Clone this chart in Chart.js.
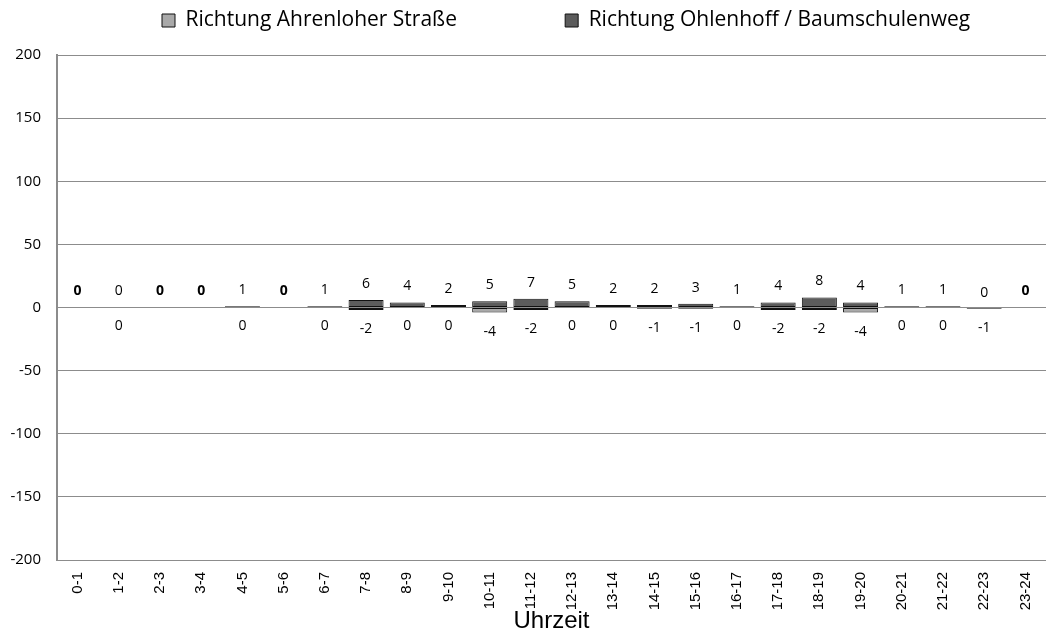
<!DOCTYPE html>
<html>
<head>
<meta charset="utf-8">
<script src="https://cdn.jsdelivr.net/npm/chart.js@4.4.0/dist/chart.umd.min.js"></script>
<style>
  html, body { margin: 0; padding: 0; background: #fff; }
  #box { width: 1046px; height: 636px; position: relative; }
</style>
</head>
<body>
<div id="box"><canvas id="chartVerkehr"></canvas></div>
<script>
// Stunden-Kategorien
const stunden = ['0-1', '1-2', '2-3', '3-4', '4-5', '5-6', '6-7', '7-8', '8-9', '9-10', '10-11', '11-12',
    '12-13', '13-14', '14-15', '15-16', '16-17', '17-18', '18-19', '19-20', '20-21', '21-22', '22-23', '23-24'];

// Richtung Ohlenhoff / Baumschulenweg (nach oben)
const richtungOhlenhoff = [0, 0, 0, 0, 1, 0, 1, 6, 4, 2, 5, 7, 5, 2, 2, 3, 1, 4, 8, 4, 1, 1, 0, 0];

// Richtung Ahrenloher Straße (nach unten), null = kein Wert
const richtungAhrenloher = [null, 0, null, null, 0, null, 0, -2, 0, 0, -4, -2, 0, 0, -1, -1, 0, -2, -2, -4, 0, 0, -1, null];

const yTicks = [-200, -150, -100, -50, 0, 50, 100, 150, 200];

const fonteCalibri = "'Open Sans', 'Noto Sans', sans-serif";
const fonteArial = "'Liberation Sans', Arial, sans-serif";

// Beschriftungen der Balken
const werteBeschriftung = {
    id: 'werteBeschriftung',
    afterDatasetsDraw(chart) {
        const ctx = chart.ctx;
        ctx.save();
        ctx.fillStyle = '#000';
        ctx.textAlign = 'center';
        ctx.textBaseline = 'middle';
        chart.data.datasets.forEach(function (ds, d) {
            const meta = chart.getDatasetMeta(d);
            meta.data.forEach(function (bar, i) {
                const v = ds.data[i];
                if (v === null) return;
                let fett = false;
                let y;
                if (d === 1) {
                    y = Math.min(bar.y, bar.base) - 16;
                    fett = richtungAhrenloher[i] === null;
                } else {
                    y = Math.max(bar.y, bar.base) + 19;
                }
                ctx.font = (fett ? 'bold ' : '') + '14px ' + fonteCalibri;
                ctx.fillText(String(v), bar.x, y);
            });
        });
        ctx.restore();
    }
};

// Legende: Hoehe festlegen und etwas nach rechts ruecken
const legendeLayout = {
    id: 'legendeLayout',
    beforeInit(chart) {
        const fit = chart.legend.fit;
        chart.legend.fit = function () {
            fit.bind(chart.legend)();
            this.height = 55;
        };
    },
    afterLayout(chart) {
        const lg = chart.legend;
        const pad = lg.options.labels.padding;
        const startX = (lg.left + pad + lg.right - lg.lineWidths[0]) / 2;
        const d = 162 - startX;
        lg.left += d;
        lg.right += d;
    }
};

const dados = {
    labels: stunden,
    datasets: [{
        label: 'Richtung Ahrenloher Straße',
        data: richtungAhrenloher,
        backgroundColor: '#a9a9a9',
        borderColor: '#111',
        borderWidth: 1,
        borderSkipped: false,
        barPercentage: 0.85,
        categoryPercentage: 1
    }, {
        label: 'Richtung Ohlenhoff / Baumschulenweg',
        data: richtungOhlenhoff,
        backgroundColor: '#5c5c5c',
        borderColor: '#111',
        borderWidth: 1,
        borderSkipped: false,
        barPercentage: 0.85,
        categoryPercentage: 1
    }]
};

const configuracao = {
    type: 'bar',
    data: dados,
    options: {
        responsive: true,
        maintainAspectRatio: false,
        animation: false,
        layout: { padding: { left: 0, right: -3, top: 0, bottom: 0 } },
        plugins: {
            legend: {
                display: true,
                position: 'top',
                labels: {
                    color: '#000',
                    font: { family: fonteCalibri, size: 21 },
                    boxWidth: 13,
                    boxHeight: 13,
                    padding: 10,
                    generateLabels(chart) {
                        const itens = Chart.defaults.plugins.legend.labels.generateLabels(chart);
                        // Abstand zwischen den beiden Eintraegen
                        itens[0].text = itens[0].text + ' '.repeat(18);
                        return itens;
                    }
                }
            },
            tooltip: { enabled: false }
        },
        scales: {
            x: {
                stacked: true,
                grid: { display: false, drawTicks: false },
                border: { display: false },
                ticks: {
                    color: '#000',
                    font: { family: fonteArial, size: 15 },
                    minRotation: 90,
                    maxRotation: 90,
                    autoSkip: false,
                    padding: 12
                },
                title: {
                    display: true,
                    text: 'Uhrzeit',
                    color: '#000',
                    font: { family: fonteArial, size: 24 },
                    padding: { top: 0, bottom: 0 }
                },
                afterFit(scale) {
                    scale.height = 76;
                    scale.paddingLeft = 0;
                    scale.paddingRight = 0;
                }
            },
            y: {
                stacked: true,
                min: -200,
                max: 200,
                z: 1,
                afterBuildTicks(scale) {
                    scale.ticks = yTicks.map(v => ({ value: v }));
                },
                grid: { color: '#8c8c8c', lineWidth: 1, drawTicks: false },
                border: { display: true, color: '#8c8c8c', width: 2 },
                ticks: {
                    color: '#000',
                    font: { family: fonteCalibri, size: 15 },
                    padding: 16
                },
                afterFit(scale) { scale.width = 57; }
            }
        }
    },
    plugins: [werteBeschriftung, legendeLayout]
};

var chartVerkehr = new Chart(document.getElementById('chartVerkehr'), configuracao);
</script>
</body>
</html>
